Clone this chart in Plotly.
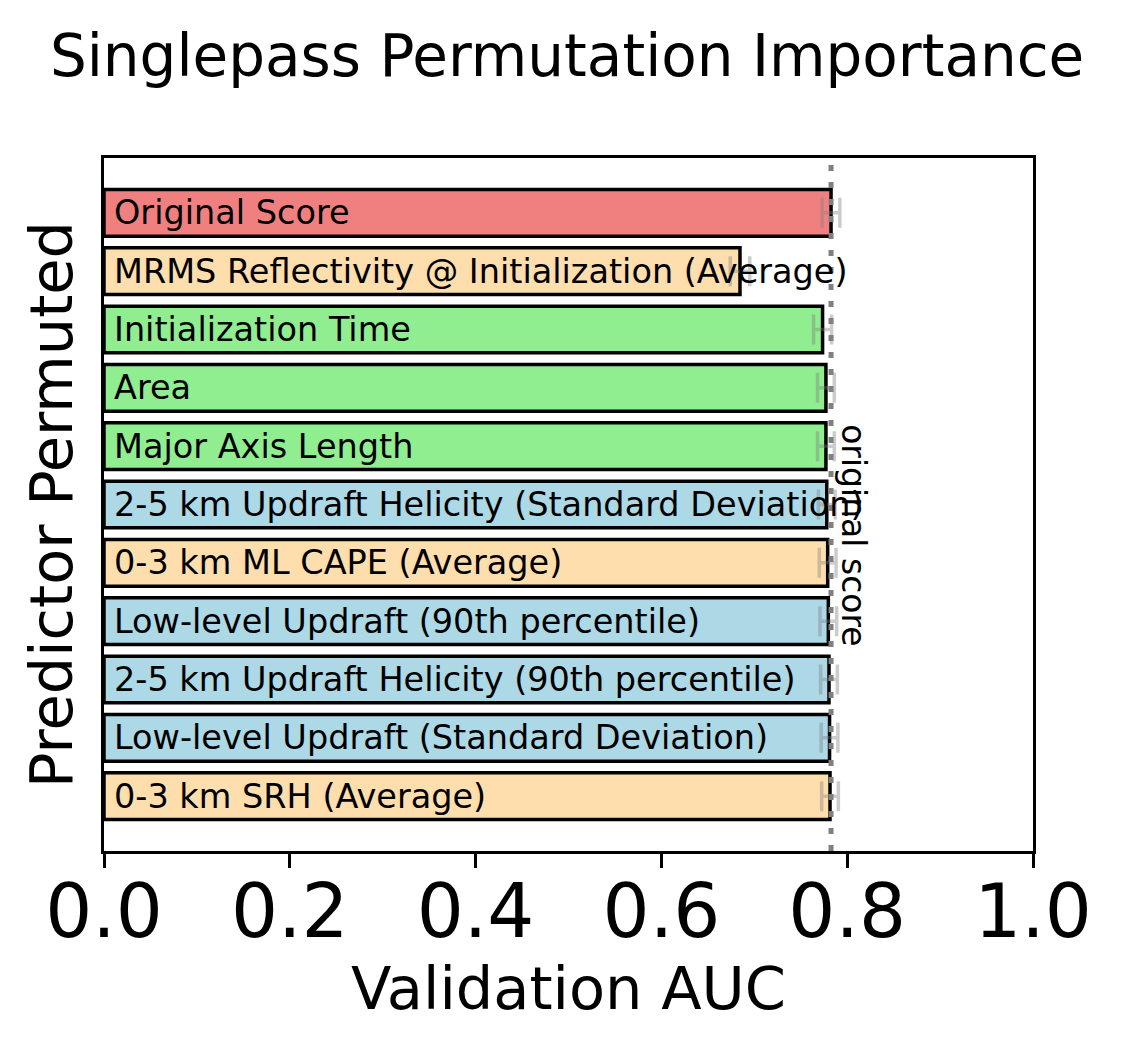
import plotly.graph_objects as go

labels = [
    "Original Score",
    "MRMS Reflectivity @ Initialization (Average)",
    "Initialization Time",
    "Area",
    "Major Axis Length",
    "2-5 km Updraft Helicity (Standard Deviation)",
    "0-3 km ML CAPE (Average)",
    "Low-level Updraft (90th percentile)",
    "2-5 km Updraft Helicity (90th percentile)",
    "Low-level Updraft (Standard Deviation)",
    "0-3 km SRH (Average)",
]
scores = [0.7826, 0.6846, 0.7735, 0.7771, 0.7771, 0.7780, 0.7790, 0.7797, 0.7804, 0.7810, 0.7815]
errors = [0.0095, 0.0105, 0.0097, 0.0090, 0.0090, 0.0090, 0.0090, 0.0090, 0.0090, 0.0090, 0.0090]
colors = ["lightcoral", "navajowhite", "lightgreen", "lightgreen", "lightgreen",
          "lightblue", "navajowhite", "lightblue", "lightblue", "lightblue", "navajowhite"]
original_score = 0.7826
x_ticks = [0.0, 0.2, 0.4, 0.6, 0.8, 1.0]

ypos = list(range(len(labels)))
FONT = "DejaVu Sans"

fig = go.Figure()
fig.add_trace(go.Bar(
    x=scores, y=ypos, orientation="h", width=0.8,
    marker=dict(color=colors, line=dict(color="black", width=3.5)),
    error_x=dict(type="data", array=errors, visible=True,
                 color="rgba(128,128,128,0.4)", thickness=3.5, width=15),
    showlegend=False, hoverinfo="skip",
))

for i, lab in enumerate(labels):
    fig.add_annotation(x=0.009, y=i, text=lab, xref="x", yref="y",
                       xanchor="left", yanchor="middle", showarrow=False,
                       font=dict(family=FONT, size=33.5, color="black"))

fig.add_shape(type="line", xref="x", yref="paper", x0=original_score, x1=original_score,
              y0=0, y1=1, line=dict(color="gray", width=5, dash="6px,11px"), layer="above")

fig.add_annotation(x=original_score, y=0.455, xref="x", yref="paper",
                   text="original score", textangle=90, showarrow=False,
                   xanchor="left", yanchor="middle", xshift=1,
                   font=dict(family=FONT, size=33, color="black"))

fig.update_layout(
    width=1123, height=1057,
    margin=dict(l=104, r=90, t=158, b=206, pad=0),
    paper_bgcolor="white", plot_bgcolor="white",
    title=dict(text="Singlepass Permutation Importance", x=0.505, xanchor="center",
               y=1 - 56 / 1057, yref="container", yanchor="middle",
               font=dict(family=FONT, size=58, color="black")),
    xaxis=dict(range=[0, 1], tickvals=x_ticks, ticktext=[f"{v:.1f}" for v in x_ticks],
               ticks="outside", ticklen=14, tickwidth=2.5, tickcolor="black",
               ticklabelstandoff=-20,
               showline=True, linecolor="black", linewidth=2.5, mirror=True,
               showgrid=False, zeroline=False,
               tickfont=dict(family=FONT, size=74, color="black"),
               title=dict(text="Validation AUC", standoff=10,
                          font=dict(family=FONT, size=59, color="black"))),
    yaxis=dict(range=[10.94, -0.94], autorange=False, showticklabels=False, ticks="",
               showline=True, linecolor="black", linewidth=2.5, mirror=True,
               showgrid=False, zeroline=False,
               title=dict(text="Predictor Permuted", standoff=10,
                          font=dict(family=FONT, size=59, color="black"))),
)

fig.write_html("out.html")
